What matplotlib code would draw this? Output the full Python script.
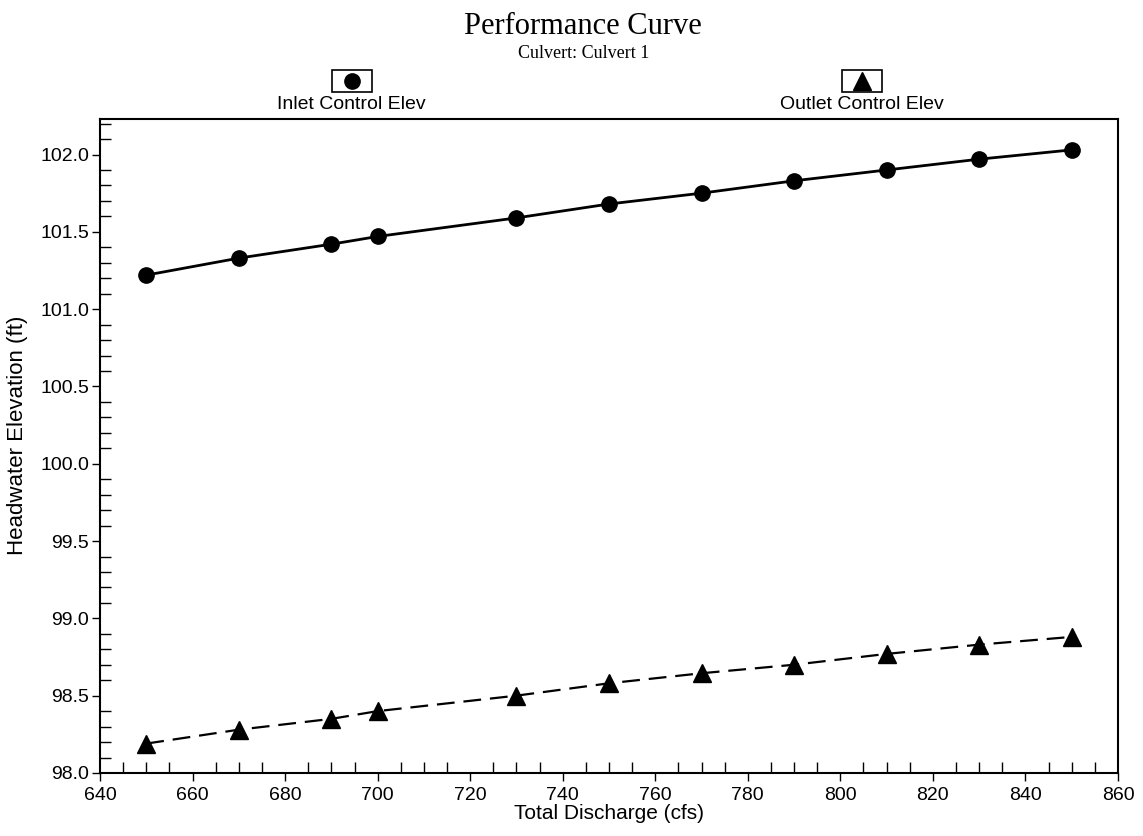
import numpy as np
import matplotlib.pyplot as plt
from matplotlib.patches import Rectangle
from matplotlib.lines import Line2D
from matplotlib.ticker import MultipleLocator, FormatStrFormatter

plt.rcParams['font.family'] = ['Liberation Sans', 'DejaVu Sans']

# discharge (cfs)
discharge = [650, 670, 690, 700, 730, 750, 770, 790, 810, 830, 850]
# headwater elevations (ft)
inlet_elev = [101.22, 101.33, 101.42, 101.47, 101.59, 101.68, 101.75, 101.83, 101.90, 101.97, 102.03]
outlet_elev = [98.19, 98.28, 98.35, 98.40, 98.50, 98.58, 98.645, 98.70, 98.77, 98.83, 98.88]

fig = plt.figure(figsize=(11.43, 8.36), dpi=100)
ax = fig.add_axes([0.0875, 0.0754, 0.8906, 0.7823])

ax.plot(discharge, inlet_elev, color='black', lw=2, marker='o', ms=11, zorder=3)
ax.plot(discharge, outlet_elev, color='black', lw=1.6, ls=(0, (8, 4)),
        marker='^', ms=12.5, zorder=3)

ax.set_xlim(640, 860)
ax.set_ylim(98.0, 102.23)
ax.xaxis.set_major_locator(MultipleLocator(20))
ax.xaxis.set_minor_locator(MultipleLocator(5))
ax.yaxis.set_major_locator(MultipleLocator(0.5))
ax.yaxis.set_minor_locator(MultipleLocator(0.1))
ax.yaxis.set_major_formatter(FormatStrFormatter('%.1f'))
ax.tick_params(which='major', direction='out', length=6, width=1, labelsize=14, pad=2)
ax.tick_params(axis='x', which='major', pad=4)
ax.tick_params(which='minor', direction='in', length=8, width=1)
for sp in ax.spines.values():
    sp.set_linewidth(1.5)

ax.set_xlabel("Total Discharge (cfs)", fontsize=15, labelpad=0)
ax.set_ylabel("Headwater Elevation (ft)", fontsize=16)
ax.yaxis.set_label_coords(-0.0707, 0.516)

fig.text(0.5096, 0.968, "Performance Curve", family='Liberation Serif',
         fontsize=22, ha='center', va='center')
fig.text(0.511, 0.936, "Culvert: Culvert 1", family='Liberation Serif',
         fontsize=13, ha='center', va='center')

# legend entries: boxed marker above label
entries = [("Inlet Control Elev", 'o', 11, 0.3077), ("Outlet Control Elev", '^', 12.5, 0.7542)]
for label, mk, ms, xc in entries:
    bw, bh = 0.035, 0.0263
    fig.add_artist(Rectangle((xc - bw / 2, 0.9031 - bh / 2), bw, bh, transform=fig.transFigure,
                             fill=False, ec='black', lw=1.2))
    fig.add_artist(Line2D([xc], [0.9031], transform=fig.transFigure, marker=mk,
                          ms=ms, color='black', ls='none'))
    fig.text(xc, 0.875, label, fontsize=14, ha='center', va='center')

fig.savefig("out.png", dpi=100)
